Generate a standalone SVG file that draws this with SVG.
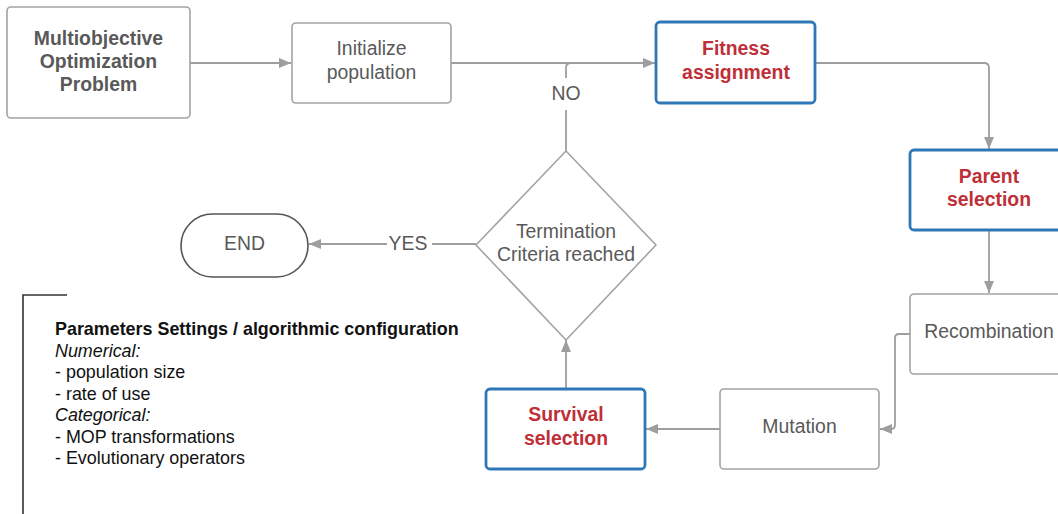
<svg xmlns="http://www.w3.org/2000/svg" width="1058" height="514" viewBox="0 0 1058 514">
<defs>
<style>
.box{fill:#fff;stroke:#a3a3a3;stroke-width:1.6}
.hl{fill:#fff;stroke:#2f78b7;stroke-width:2.8}
.t{font-family:"Liberation Sans",Arial,sans-serif;font-size:19.4px;fill:#595959;text-anchor:middle}
.b{font-weight:bold}
.r{fill:#bf2f37;font-weight:bold}
.c{fill:none;stroke:#9e9e9e;stroke-width:1.8}
.p{font-family:"Liberation Sans",Arial,sans-serif;font-size:17.9px;fill:#111}
</style>
<marker id="ah" viewBox="0 0 12 10" refX="12" refY="5" markerWidth="12" markerHeight="10" markerUnits="userSpaceOnUse" orient="auto">
<path d="M0,0 L12,5 L0,10 z" fill="#9e9e9e"/>
</marker>
</defs>
<rect width="1058" height="514" fill="#fff"/>
<g id="connectors">
<path class="c" d="M190,63 H291" marker-end="url(#ah)"/>
<path class="c" d="M451,63 H655" marker-end="url(#ah)"/>
<path class="c" d="M566,151 V110"/>
<path class="c" d="M566,78 V68 Q566,63 571,63 H600"/>
<path class="c" d="M815,63 H984 Q989,63 989,68 V149" marker-end="url(#ah)"/>
<path class="c" d="M989,230 V293" marker-end="url(#ah)"/>
<path class="c" d="M910,334 H899 Q895,334 895,338 V425 Q895,429 891,429 H880" marker-end="url(#ah)"/>
<path class="c" d="M720,429 H646" marker-end="url(#ah)"/>
<path class="c" d="M566,389 V340" marker-end="url(#ah)"/>
<path class="c" d="M476,244 H432"/>
<path class="c" d="M387,244 H309" marker-end="url(#ah)"/>
<text class="t" x="566" y="100">NO</text>
<text class="t" x="408" y="250">YES</text>
</g>
<g id="mop">
<rect class="box" x="7" y="7" width="183" height="111" rx="4"/>
<text class="t b" x="98.5" y="45">Multiobjective</text>
<text class="t b" x="98.5" y="68">Optimization</text>
<text class="t b" x="98.5" y="91">Problem</text>
</g>
<g id="init">
<rect class="box" x="292" y="23" width="159" height="80" rx="4"/>
<text class="t" x="371.5" y="55">Initialize</text>
<text class="t" x="371.5" y="79">population</text>
</g>
<g id="fitness">
<rect class="hl" x="656" y="22" width="159" height="81" rx="4"/>
<text class="t r" x="736" y="55">Fitness</text>
<text class="t r" x="736" y="79">assignment</text>
</g>
<g id="parent">
<rect class="hl" x="910" y="150" width="160" height="80" rx="4"/>
<text class="t r" x="989" y="183">Parent</text>
<text class="t r" x="989" y="206">selection</text>
</g>
<g id="recombination">
<rect class="box" x="910" y="294" width="160" height="80" rx="4"/>
<text class="t" x="989" y="338">Recombination</text>
</g>
<g id="mutation">
<rect class="box" x="720" y="389" width="159" height="80" rx="4"/>
<text class="t" x="799.5" y="433">Mutation</text>
</g>
<g id="survival">
<rect class="hl" x="486" y="389" width="159" height="80" rx="4"/>
<text class="t r" x="566" y="421">Survival</text>
<text class="t r" x="566" y="445">selection</text>
</g>
<g id="termination">
<path class="box" d="M566,151 L656,245 L566,340 L476,245 Z" stroke-linejoin="round"/>
<text class="t" x="566" y="238">Termination</text>
<text class="t" x="566" y="261">Criteria reached</text>
</g>
<g id="end">
<rect x="181" y="214" width="127" height="63" rx="31.5" fill="#fff" stroke="#555" stroke-width="1.6"/>
<text class="t" x="244.5" y="250">END</text>
</g>
<g id="parameters">
<path d="M67,295 H23 V514" fill="none" stroke="#333" stroke-width="1.6"/>
<text class="p" x="55" y="335" font-weight="bold">Parameters Settings / algorithmic configuration</text>
<text class="p" x="55" y="356.5" font-style="italic">Numerical:</text>
<text class="p" x="55" y="378">- population size</text>
<text class="p" x="55" y="399.5">- rate of use</text>
<text class="p" x="55" y="421" font-style="italic">Categorical:</text>
<text class="p" x="55" y="442.5">- MOP transformations</text>
<text class="p" x="55" y="464">- Evolutionary operators</text>
</g>
</svg>
